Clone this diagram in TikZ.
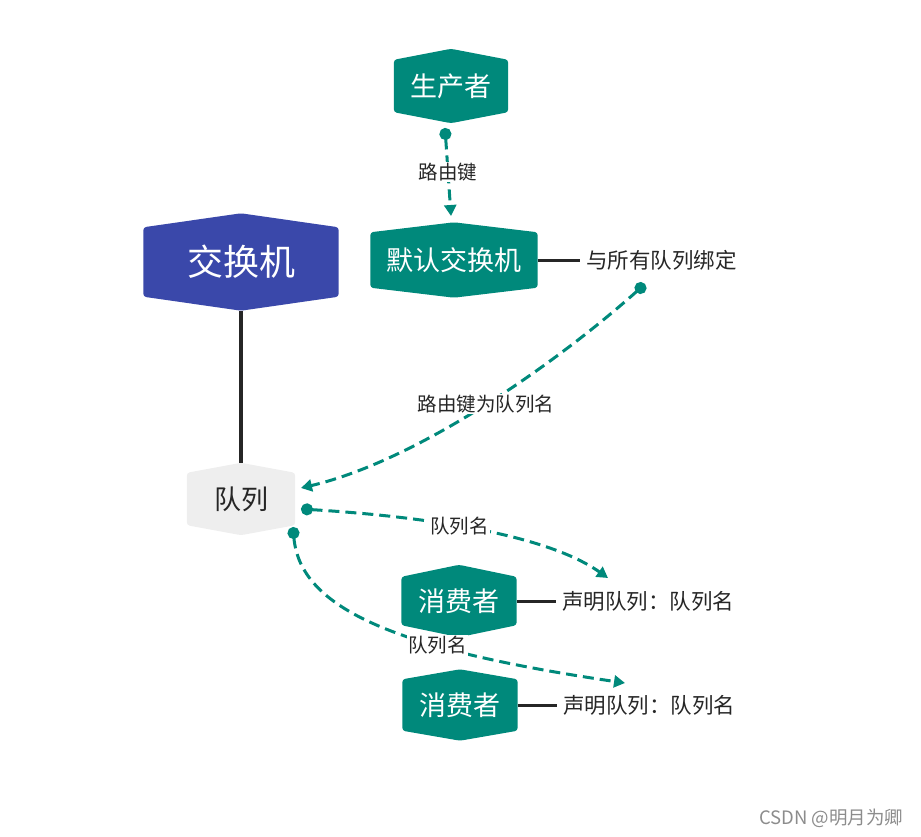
\documentclass[tikz,border=0pt]{standalone}
\usepackage{fontspec}
\setmainfont{Noto Sans CJK SC}
\usetikzlibrary{arrows.meta,backgrounds,positioning}

\definecolor{teal6}{HTML}{00897B}
\definecolor{indigo6}{HTML}{3A48AA}
\definecolor{queuegray}{HTML}{EEEEEE}

% hexagon behind a node: name, colour, peak height
\newcommand{\hexfill}[3]{%
  \fill[#2, rounded corners=3pt] (#1.north west) -- ([yshift=#3]#1.north) -- (#1.north east)
    -- (#1.south east) -- ([yshift=-#3]#1.south) -- (#1.south west) -- cycle;}

\begin{document}
\begin{tikzpicture}[
    x=1pt, y=-1pt,
    hexnode/.style={inner sep=0pt, text=white, font=\fontsize{27}{32}\selectfont},
    note/.style={inner sep=6pt, anchor=west, text=black!85, font=\fontsize{21.5}{25}\selectfont},
    tag/.style={fill=white, inner sep=1pt, text=black!85, font=\fontsize{19.5}{23}\selectfont},
    flow/.style={draw=teal6, line width=3pt, dash pattern=on 11pt off 6pt,
        {Circle[length=12pt,sep=0pt]}-{Triangle[length=11pt,width=12pt]}},
    link/.style={draw=black!85, line width=3pt}
]
\useasboundingbox (0,0) rectangle (921,837);

% nodes
\node[hexnode, minimum width=114pt, minimum height=52pt] (prod) at (451,86) {生产者};
\node[hexnode, minimum width=195pt, minimum height=69pt, font=\fontsize{36}{40}\selectfont] (exch) at (241,262) {交换机};
\node[hexnode, minimum width=167pt, minimum height=55pt] (dex) at (454,260) {默认交换机};
\node[hexnode, minimum width=108pt, minimum height=52pt, text=black!85] (queue) at (241,499) {队列};
\node[hexnode, minimum width=115pt, minimum height=48pt] (cons1) at (459,601) {消费者};
\node[hexnode, minimum width=115pt, minimum height=51pt] (cons2) at (460,705) {消费者};

\node[note] (bind) at (580,260) {与所有队列绑定};
\node[note] (decl1) at (556,601) {声明队列：队列名};
\node[note] (decl2) at (557,705) {声明队列：队列名};

\begin{scope}[on background layer]
  \hexfill{prod}{teal6}{11}
  \hexfill{exch}{indigo6}{14}
  \hexfill{dex}{teal6}{10}
  \hexfill{queue}{queuegray}{10}
  \hexfill{cons1}{teal6}{12}
  \hexfill{cons2}{teal6}{10}
\end{scope}

% dot ends of the dashed connectors
\coordinate (prodout) at (445,128);
\coordinate (bindout) at (645,284);
\coordinate (queueout1) at (301,509);
\coordinate (queueout2) at (293,527);
\coordinate (dexin) at (451,216);
\coordinate (queuein) at (301,488);
\coordinate (cons1in) at (608,578);
\coordinate (cons2in) at (625,683);

% solid links
\draw[link] (dex.east) -- (bind.west);
\draw[link] (cons1.east) -- (decl1.west);
\draw[link] (cons2.east) -- (decl2.west);
\draw[link, line width=4pt] ([yshift=-14]exch.south) -- ([yshift=10]queue.north);

% dashed flows
\draw[flow] (prodout) -- node[tag] {路由键} (dexin);
\draw[flow] (bindout) .. controls (560,360) and (420,460) .. node[tag, pos=0.5] {路由键为队列名} (queuein);
\draw[flow] (queueout1) .. controls (400,515) and (540,530) .. node[tag, pos=0.48] {队列名} (cons1in);
\draw[flow] (queueout2) .. controls (300,610) and (400,650) .. node[tag, pos=0.66] {队列名} (cons2in);

\node[text=black!45, font=\fontsize{18.5}{22}\selectfont, anchor=east] (mark) at (907,818) {CSDN @明月为卿};
\end{tikzpicture}
\end{document}
